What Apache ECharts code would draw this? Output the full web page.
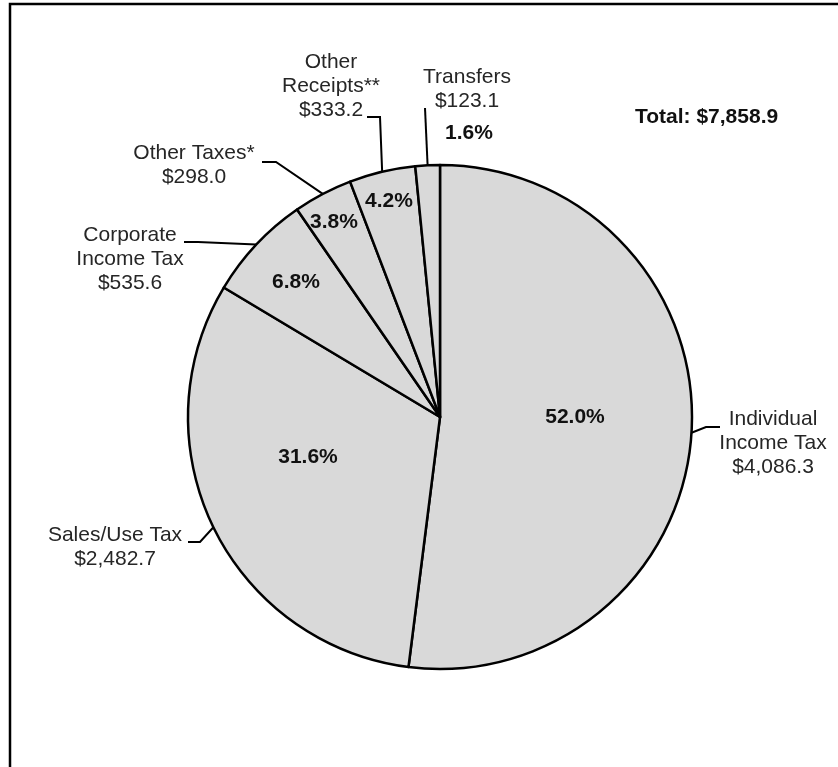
<!DOCTYPE html>
<html>
<head>
<meta charset="utf-8">
<script src="https://cdn.jsdelivr.net/npm/echarts@6/dist/echarts.min.js"></script>
<style>
html,body{margin:0;padding:0;background:#fff;}
#chart{width:838px;height:767px;}
</style>
</head>
<body>
<div id="chart"></div>
<script>
// ---- data ----
const categories = ['Individual\nIncome Tax', 'Sales/Use Tax', 'Corporate\nIncome Tax', 'Other Taxes*', 'Other\nReceipts**', 'Transfers'];
const values = [4086.3, 2482.7, 535.6, 298.0, 333.2, 123.1];
const totalLabel = 'Total: $7,858.9';

// ---- layout (label placement, not data) ----
const pctLabelPos = [[575, 417], [308, 457], [296, 282], [334, 222], [389, 201], [469, 133]];
const nameLabelPos = [[773, 443], [115, 547], [130, 259], [194, 165], [331, 86], [467, 89]];
const guideBends = [
  [[706, 427], [720, 427]],
  [[200, 542], [188, 542]],
  [[198, 242], [184, 242]],
  [[276, 162], [262, 162]],
  [[380, 117], [367, 117]],
  [[425, 108]]
];

const total = values.reduce((a, b) => a + b, 0);
const fmtMoney = v => '$' + v.toLocaleString('en-US', {minimumFractionDigits: 1, maximumFractionDigits: 1});
const data = categories.map((c, i) => ({name: c, value: values[i]}));

const chart = echarts.init(document.getElementById('chart'), null, {renderer: 'canvas'});
const center = [440, 417];
const radius = 252;

chart.setOption({
  backgroundColor: '#fff',
  animation: false,
  graphic: [
    {type: 'rect', shape: {x: 10, y: 4, width: 1000, height: 1000}, style: {fill: 'none', stroke: '#000', lineWidth: 2.5}, silent: true},
    {type: 'text', left: 635, top: 107, style: {text: totalLabel, font: 'bold 21px "Liberation Sans", Arial, sans-serif', fill: '#111'}}
  ],
  series: [
    {
      type: 'pie',
      center: center,
      radius: radius,
      startAngle: 90,
      clockwise: true,
      silent: true,
      data: data,
      itemStyle: {color: '#d9d9d9', borderColor: '#000', borderWidth: 2.5},
      label: {
        show: true,
        position: 'inside',
        formatter: p => (p.value / total * 100).toFixed(1) + '%',
        fontFamily: '"Liberation Sans", Arial, sans-serif',
        fontWeight: 'bold',
        fontSize: 21,
        color: '#111'
      },
      labelLine: {show: false},
      labelLayout: p => ({x: pctLabelPos[p.dataIndex][0], y: pctLabelPos[p.dataIndex][1], align: 'center', verticalAlign: 'middle'})
    },
    {
      type: 'pie',
      center: center,
      radius: radius,
      startAngle: 90,
      clockwise: true,
      silent: true,
      data: data,
      itemStyle: {color: 'rgba(0,0,0,0)', borderWidth: 0},
      label: {
        show: true,
        position: 'outside',
        formatter: p => p.name + '\n' + fmtMoney(p.value),
        fontFamily: '"Liberation Sans", Arial, sans-serif',
        fontSize: 21,
        lineHeight: 24,
        align: 'center',
        color: '#262626'
      },
      labelLine: {show: true, length: 10, length2: 10, lineStyle: {color: '#000', width: 2}},
      labelLayout: p => {
        const i = p.dataIndex;
        const start = p.labelLinePoints ? p.labelLinePoints[0] : null;
        const pts = start ? [start].concat(guideBends[i]) : guideBends[i];
        return {x: nameLabelPos[i][0], y: nameLabelPos[i][1], align: 'center', verticalAlign: 'middle', labelLinePoints: pts};
      }
    }
  ]
});
</script>
</body>
</html>
